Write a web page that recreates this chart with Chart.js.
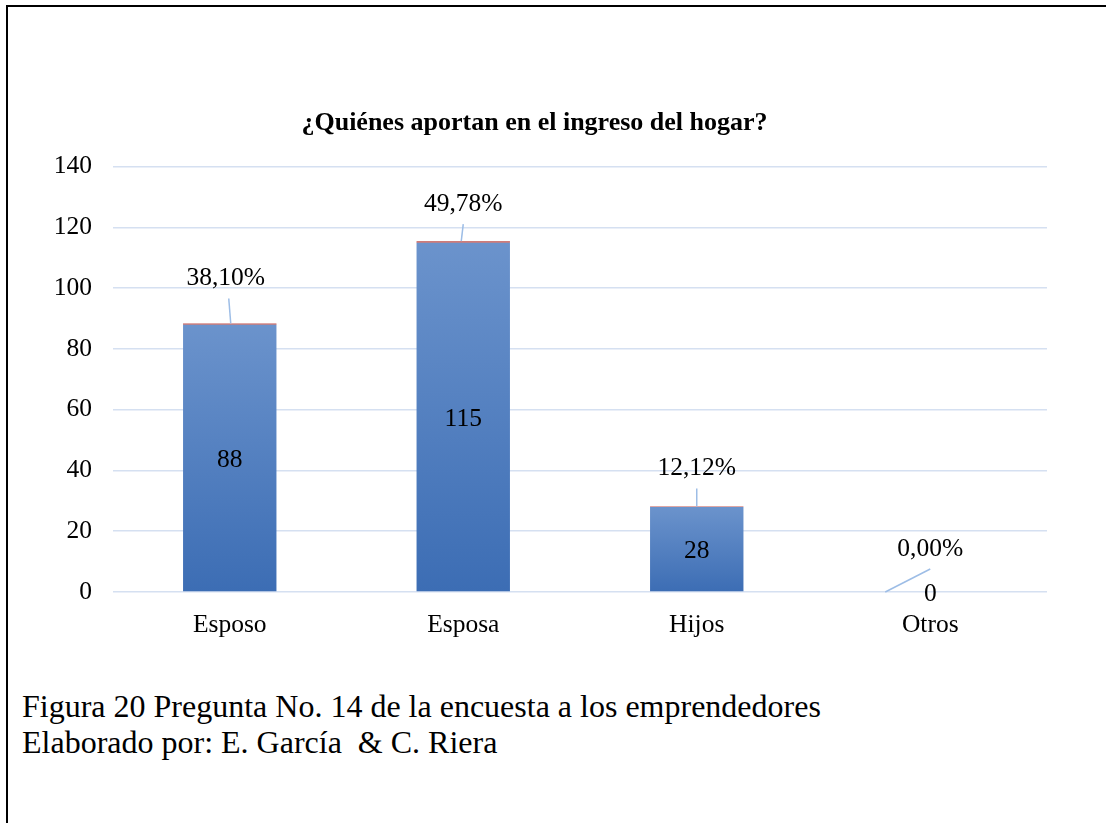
<!DOCTYPE html>
<html>
<head>
<meta charset="utf-8">
<script src="https://cdn.jsdelivr.net/npm/chart.js@4.4.1/dist/chart.umd.min.js"></script>
<style>
  html, body { margin: 0; padding: 0; background: #fff; }
  body { width: 1106px; height: 823px; position: relative; overflow: hidden; font-family: "Liberation Serif", "Times New Roman", serif; }
  .frame { position: absolute; left: 6px; top: 5px; width: 1200px; height: 900px; border-top: 2px solid #000; border-left: 2px solid #000; }
  .chart-box { position: absolute; left: 22px; top: 97px; width: 1070px; height: 561px; }
  .caption { position: absolute; left: 22px; top: 688px; font-size: 32px; line-height: 36px; color: #000; white-space: nowrap; }
</style>
</head>
<body>
<div class="frame"></div>
<div class="chart-box"><canvas id="chart"></canvas></div>
<div class="caption">Figura 20 Pregunta No. 14 de la encuesta a los emprendedores<br>Elaborado por: E. García &nbsp;&amp; C. Riera</div>
<script>
// ── data ─────────────────────────────────────────────
var categories = ['Esposo', 'Esposa', 'Hijos', 'Otros'];
var counts = [88, 115, 28, 0];
var shares = [0.3810, 0.4978, 0.1212, 0.0000];   // stacked thin red segment
var shareLabels = ['38,10%', '49,78%', '12,12%', '0,00%'];
var yTicks = [0, 20, 40, 60, 80, 100, 120, 140];

var FONT = '"Liberation Serif", "Times New Roman", serif';
var FS = 25.5;

// per-bar vertical gradient, lighter at the top
function barGradient(ctx) {
  var chart = ctx.chart;
  if (!chart.chartArea || !chart.scales.y) return '#4f7fc0';
  var y = chart.scales.y;
  var top = y.getPixelForValue(ctx.raw || 0);
  var base = y.getPixelForValue(0);
  if (base - top < 1) return '#4f7fc0';
  var g = chart.ctx.createLinearGradient(0, top, 0, base);
  g.addColorStop(0, '#6b93cc');
  g.addColorStop(1, '#3c6db4');
  return g;
}

// labels: counts in the bar middle, percentages above with a leader line
var labelPlugin = {
  id: 'barLabels',
  afterDatasetsDraw: function(chart, args, opts) {
    var ctx = chart.ctx;
    var m0 = chart.getDatasetMeta(0);
    var m1 = chart.getDatasetMeta(1);
    ctx.save();
    ctx.font = FS + 'px ' + FONT;
    ctx.fillStyle = '#000';
    ctx.textAlign = 'center';
    ctx.textBaseline = 'middle';
    m0.data.forEach(function(bar, i) {
      var mid = (bar.y + bar.base) / 2;
      ctx.fillText(String(counts[i]), bar.x, mid + 2);
    });
    m1.data.forEach(function(bar, i) {
      var o = opts.offsets[i];
      var lx = bar.x + o.dx, ly = bar.y + o.dy;
      ctx.strokeStyle = '#9dbde6';
      ctx.lineWidth = 1.5;
      ctx.beginPath();
      ctx.moveTo(bar.x + o.ax, bar.y);
      ctx.lineTo(lx + o.ex, ly + 20);
      ctx.stroke();
      ctx.fillStyle = '#000';
      ctx.fillText(shareLabels[i], lx, ly);
    });
    ctx.restore();
  }
};

new Chart(document.getElementById('chart'), {
  type: 'bar',
  data: {
    labels: categories,
    datasets: [
      {
        label: 'Cantidad',
        data: counts,
        backgroundColor: barGradient,
        barPercentage: 0.4,
        categoryPercentage: 1,
        stack: 's'
      },
      {
        label: 'Porcentaje',
        data: shares,
        backgroundColor: '#c0504d',
        barPercentage: 0.4,
        categoryPercentage: 1,
        stack: 's'
      }
    ]
  },
  options: {
    responsive: true,
    maintainAspectRatio: false,
    animation: false,
    layout: { padding: { left: 0, right: 45, top: 0, bottom: 0 } },
    plugins: {
      legend: { display: false },
      tooltip: { enabled: false },
      title: {
        display: true,
        text: '¿Quiénes aportan en el ingreso del hogar?',
        color: '#000',
        font: { family: FONT, size: 26, weight: 'bold' },
        padding: { top: 11, bottom: 27.5 }
      },
      barLabels: {
        offsets: [
          { dx: -4, dy: -45, ax: 1, ex: 3 },
          { dx: 0, dy: -37, ax: -2, ex: 0 },
          { dx: 0, dy: -38, ax: 0, ex: 0 },
          { dx: 0, dy: -43, ax: -45, ex: 0 }
        ]
      }
    },
    scales: {
      x: {
        stacked: true,
        grid: { display: false, drawTicks: false },
        border: { display: false },
        ticks: { color: '#000', font: { family: FONT, size: FS }, padding: 17.7 }
      },
      y: {
        stacked: true,
        min: 0,
        max: 140,
        afterFit: function(scale) { scale.width = 91; },
        afterBuildTicks: function(scale) {
          scale.ticks = yTicks.map(function(v) { return { value: v }; });
        },
        grid: { color: '#d5e0f1', lineWidth: 1.5, drawTicks: false },
        border: { display: false },
        ticks: { color: '#000', font: { family: FONT, size: FS }, padding: 21 }
      }
    }
  },
  plugins: [labelPlugin]
});
</script>
</body>
</html>
